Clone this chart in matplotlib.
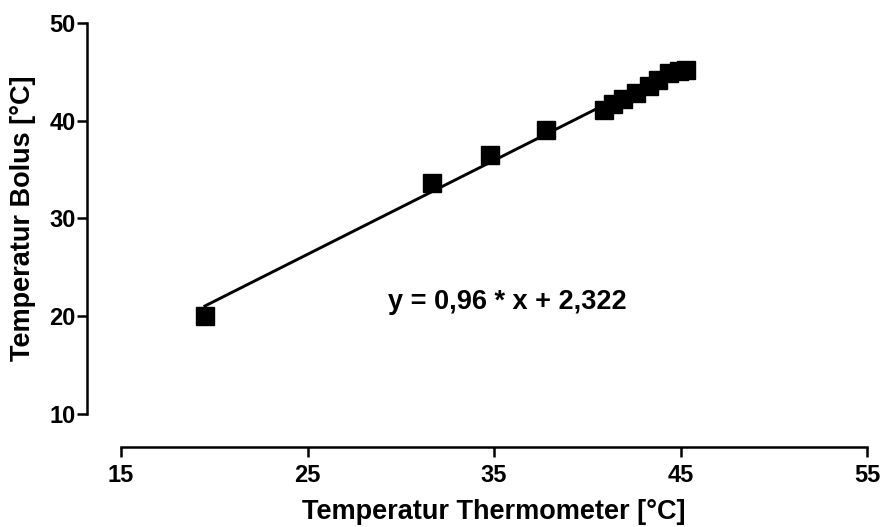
import numpy as np
import matplotlib.pyplot as plt

plt.rcParams['font.family'] = ['Liberation Sans', 'DejaVu Sans']
plt.rcParams['font.weight'] = 'bold'

# Messwerte
thermometer = [19.5, 31.7, 34.8, 37.8, 40.9, 41.4, 41.9, 42.6, 43.3, 43.8, 44.4, 44.9, 45.3]
bolus = [20.0, 33.6, 36.5, 39.0, 41.1, 41.7, 42.2, 42.8, 43.5, 44.1, 44.9, 45.1, 45.2]
slope = 0.96
intercept = 2.322

fig = plt.figure(figsize=(8.84, 5.27), dpi=100)
ax = fig.add_axes([121/884, 113/527, 746/884, 391.3/527])

xfit = np.array([min(thermometer), max(thermometer)])
ax.plot(xfit, slope * xfit + intercept, color='black', lw=2.1, zorder=2)
ax.plot(thermometer, bolus, 's', color='black', ms=12.5, zorder=3)

ax.text(29.3, 21.5, 'y = 0,96 * x + 2,322', fontsize=19.5, fontweight='bold', ha='left', va='center')

ax.set_xlim(15, 55)
ax.set_ylim(10, 50)
ax.set_xticks([15, 25, 35, 45, 55])
ax.set_yticks([10, 20, 30, 40, 50])

for s in ['top', 'right']:
    ax.spines[s].set_visible(False)
ax.spines['left'].set_position(('outward', 24.5))
ax.spines['bottom'].set_position(('outward', 23.8))
for s in ['left', 'bottom']:
    ax.spines[s].set_linewidth(1.8)
ax.tick_params(direction='out', length=7, width=1.8, labelsize=17)
ax.tick_params(axis='x', pad=5)
ax.tick_params(axis='y', pad=1)
for lab in ax.get_xticklabels() + ax.get_yticklabels():
    lab.set_fontweight('bold')

ax.set_xlabel('Temperatur Thermometer [°C]', fontsize=19.5, fontweight='bold', labelpad=9)
ax.set_ylabel('Temperatur Bolus [°C]', fontsize=19.5, fontweight='bold', labelpad=10)

fig.savefig('out.png', dpi=100)
